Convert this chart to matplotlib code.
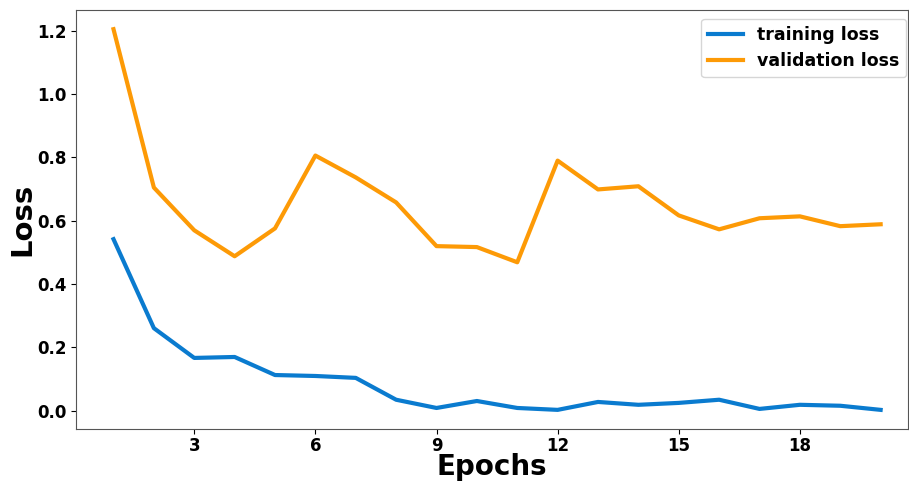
import numpy as np
import matplotlib.pyplot as plt

epochs = list(range(1, 21))
train_loss = [0.542, 0.261, 0.167, 0.170, 0.113, 0.110, 0.104, 0.035, 0.009, 0.031,
              0.009, 0.003, 0.028, 0.019, 0.025, 0.035, 0.006, 0.019, 0.016, 0.003]
val_loss = [1.205, 0.705, 0.570, 0.488, 0.576, 0.806, 0.737, 0.658, 0.520, 0.517,
            0.469, 0.790, 0.699, 0.709, 0.617, 0.573, 0.608, 0.614, 0.583, 0.589]
xticks = [3, 6, 9, 12, 15, 18]

fig = plt.figure(figsize=(9.09, 4.83), dpi=100)
ax = fig.add_axes([0.084, 0.112, 0.915, 0.867])
ax.plot(epochs, train_loss, c='#0a7bcf', lw=3, label='training loss')
ax.plot(epochs, val_loss, c='#fd9a06', lw=3, label='validation loss')
ax.set_xlim(0.08, 20.68)
ax.set_xticks(xticks)
ax.set_yticks([0.0, 0.2, 0.4, 0.6, 0.8, 1.0, 1.2])
ax.tick_params(axis='x', pad=2)
for lab in ax.get_xticklabels() + ax.get_yticklabels():
    lab.set_fontweight('bold')
    lab.set_fontsize(12)
for s in ax.spines.values():
    s.set_color('#555555')
ax.set_xlabel('Epochs', fontsize=20, fontweight='bold')
ax.xaxis.set_label_coords(0.5, -0.058)
ax.set_ylabel('Loss', fontsize=21, fontweight='bold')
ax.yaxis.set_label_coords(-0.048, 0.5)
ax.legend(loc='upper right', prop={'weight': 'bold', 'size': 12.5},
          bbox_to_anchor=(1.008, 1.0), handlelength=2.0)
plt.savefig('out.png', dpi=100)
